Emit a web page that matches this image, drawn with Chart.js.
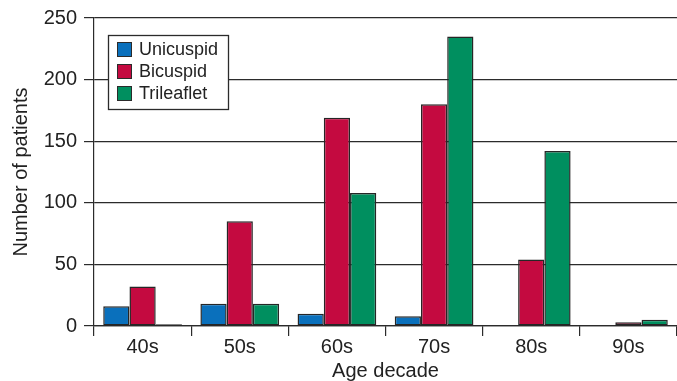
<!DOCTYPE html>
<html>
<head>
<meta charset="utf-8">
<script src="https://cdn.jsdelivr.net/npm/chart.js@4"></script>
<style>
html,body{margin:0;padding:0;background:#fff;overflow:hidden;}
#wrap{width:677px;height:381px;}
</style>
</head>
<body>
<div id="wrap"><canvas id="c" width="677" height="381"></canvas></div>
<script>
const categories = ['40s', '50s', '60s', '70s', '80s', '90s'];
const unicuspid = [16, 18, 10, 8, 0, 0];
const bicuspid = [32, 85, 169, 180, 54, 3];
const trileaflet = [1.5, 18, 108, 235, 142, 5];
const yTicks = [0, 50, 100, 150, 200, 250];

const FONT = "'Liberation Sans', Arial, Helvetica, sans-serif";
const TEXT = '#222';
const LINE = '#2b2b2b';

const legendBox = {
  id: 'legendBox',
  afterDraw(chart) {
    const ctx = chart.ctx;
    const x = 108.5, y = 35.5, w = 120, h = 74;
    ctx.save();
    ctx.fillStyle = '#fff';
    ctx.fillRect(x, y, w, h);
    ctx.strokeStyle = LINE;
    ctx.lineWidth = 1.3;
    ctx.strokeRect(x, y, w, h);
    ctx.font = "18px " + FONT;
    ctx.textBaseline = 'middle';
    chart.data.datasets.forEach((ds, i) => {
      const cy = 49.5 + i * 22;
      ctx.fillStyle = ds.backgroundColor;
      ctx.fillRect(117.5, cy - 7, 14, 14);
      ctx.strokeStyle = LINE;
      ctx.lineWidth = 1;
      ctx.strokeRect(117.5, cy - 7, 14, 14);
      ctx.fillStyle = TEXT;
      ctx.fillText(ds.label, 139, cy + 1);
    });
    ctx.restore();
  }
};

new Chart(document.getElementById('c'), {
  type: 'bar',
  data: {
    labels: categories,
    datasets: [
      { label: 'Unicuspid', data: unicuspid, backgroundColor: '#0A70BC' },
      { label: 'Bicuspid', data: bicuspid, backgroundColor: '#C40A40' },
      { label: 'Trileaflet', data: trileaflet, backgroundColor: '#008F5F' }
    ].map(d => Object.assign(d, {
      borderColor: '#262626', borderWidth: 1.5, borderSkipped: false,
      categoryPercentage: 0.81, barPercentage: 1.0
    }))
  },
  options: {
    responsive: false,
    animation: false,
    layout: { padding: { top: 18, right: 0, left: 0, bottom: 0 } },
    plugins: { legend: { display: false }, tooltip: { enabled: false } },
    scales: {
      x: {
        offset: true,
        grid: { display: true, offset: true, drawOnChartArea: false, drawTicks: true, tickLength: 10, color: LINE, lineWidth: 1.2 },
        border: { display: true, color: LINE, width: 1.2 },
        ticks: { color: TEXT, font: { family: FONT, size: 20, lineHeight: 1 }, padding: 1, maxRotation: 0 },
        title: { display: true, text: 'Age decade', color: TEXT, font: { family: FONT, size: 20, lineHeight: 1 }, padding: { top: 0, bottom: 0 } },
        afterFit(s) { s.height = 55; }
      },
      y: {
        min: 0, max: 250,
        afterBuildTicks(s) { s.ticks = yTicks.map(v => ({ value: v })); },
        grid: { color: LINE, lineWidth: 1.2, drawTicks: true, tickLength: 10 },
        border: { display: true, color: LINE, width: 1.2 },
        ticks: { color: TEXT, font: { family: FONT, size: 20, lineHeight: 1 }, padding: 7 },
        title: { display: true, text: 'Number of patients', color: TEXT, font: { family: FONT, size: 20, lineHeight: 1 }, padding: { top: 11, bottom: 0 } },
        afterFit(s) { s.width = 94; }
      }
    }
  },
  plugins: [legendBox]
});
</script>
</body>
</html>
